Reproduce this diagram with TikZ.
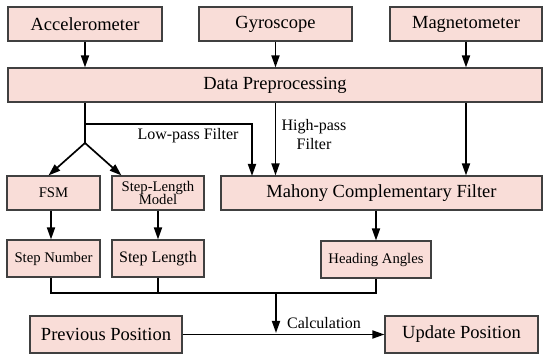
\documentclass[tikz,border=0pt]{standalone}
\usepackage{fontspec}
\setmainfont{Liberation Serif}
\usetikzlibrary{arrows.meta,calc}
\definecolor{boxfill}{HTML}{F9DDD8}
\definecolor{boxline}{HTML}{404040}
\tikzset{
  box/.style={draw=boxline, line width=1.1pt, fill=boxfill, inner sep=0pt, align=center},
  big/.style={font=\fontsize{18.5}{20}\selectfont},
  mid/.style={font=\fontsize{16}{18}\selectfont},
  small/.style={font=\fontsize{14.7}{15.5}\selectfont},
  conn/.style={line width=1.7pt, draw=black},
  arr/.style={conn, -{Triangle[length=12pt,width=8pt]}},
  lbl/.style={inner sep=0pt, align=center}
}
\begin{document}
\begin{tikzpicture}[x=1pt,y=-1pt]
\useasboundingbox (0,0) rectangle (550,358);
% top sensors
\node[box,big,minimum width=154pt,minimum height=34pt] (acc) at (85,24) {Accelerometer};
\node[box,big,minimum width=153pt,minimum height=34pt] (gyr) at (275.5,24) {Gyroscope};
\node[box,big,minimum width=152pt,minimum height=34pt] (mag) at (466,24) {Magnetometer};
\node[box,big,minimum width=534pt,minimum height=34pt] (dp) at (275,85) {Data Preprocessing};
% middle
\node[box,small,minimum width=93pt,minimum height=34pt] (fsm) at (53.5,193) {FSM};
\node[box,small,minimum width=92pt,minimum height=34pt] (slm) at (158,193) {Step-Length\\[-2pt]Model};
\node[box,big,minimum width=321pt,minimum height=34pt] (mcf) at (381.5,193) {Mahony Complementary Filter};
\node[box,small,minimum width=93pt,minimum height=37pt] (sn) at (53.5,258.5) {Step Number};
\node[box,mid,minimum width=92pt,minimum height=37pt] (sl) at (158,258.5) {Step Length};
\node[box,small,minimum width=110pt,minimum height=37pt] (ha) at (376,259.5) {Heading Angles};
% bottom
\node[box,big,minimum width=152pt,minimum height=37pt] (pp) at (106,334.5) {Previous Position};
\node[box,big,minimum width=153pt,minimum height=37pt] (up) at (461.5,334.5) {Update Position};
% labels
\node[lbl,mid] (lpl) at (188,136) {Low-pass Filter};
\node[lbl,mid] (hpl) at (314,135) {High-pass\\[1pt]Filter};
\node[lbl,mid] (cal) at (324,323) {Calculation};
% coordinates
\coordinate (lp) at (85,124);
\coordinate (br) at (85,143);
\coordinate (lpend) at (252,176);
\coordinate (hb) at (276,293);
\coordinate (hbend) at (276,333);
% sensor arrows
\draw[arr] (acc.south) -- (acc.south |- dp.north);
\draw[arr] (gyr.south) -- (gyr.south |- dp.north);
\draw[arr] (mag.south) -- (mag.south |- dp.north);
% preprocessing outputs
\draw[conn] (acc.south |- dp.south) -- (br);
\draw[arr] (lp) -| (lpend);
\draw[arr] (br) -- ([xshift=-5pt]fsm.north);
\draw[arr] (br) -- ([xshift=10pt]slm.north west);
\draw[arr] (gyr.south |- dp.south) -- (gyr.south |- mcf.north);
\draw[arr] (mag.south |- dp.south) -- (mag.south |- mcf.north);
% middle to results
\draw[arr] ([xshift=-2.5pt]fsm.south) -- ([xshift=-2.5pt]sn.north);
\draw[arr] (slm.south) -- (sl.north);
\draw[arr] (ha.north |- mcf.south) -- (ha.north);
% combination
\draw[conn] ([xshift=-2.5pt]sn.south) |- (hb);
\draw[conn] (sl.south) -- (sl.south |- hb);
\draw[conn] (ha.south) |- (hb);
\draw[arr] (hb) -- (hbend);
\draw[arr] (pp.east) -- (up.west);
\end{tikzpicture}
\end{document}
